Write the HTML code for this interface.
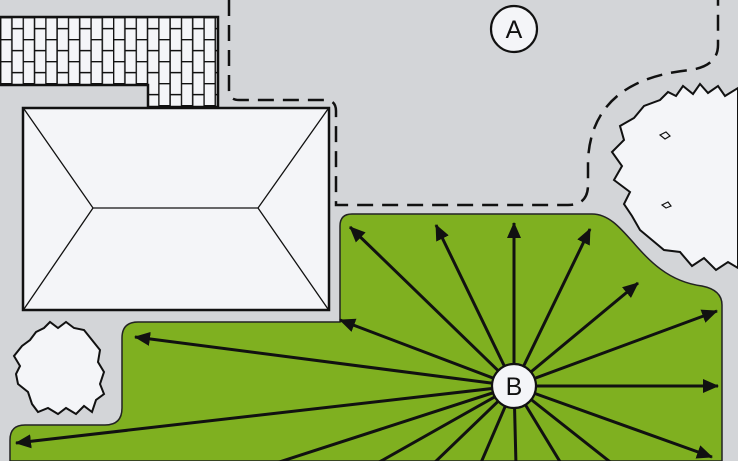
<!DOCTYPE html>
<html><head><meta charset="utf-8"><style>
html,body{margin:0;padding:0;background:#d3d5d8;}
svg{display:block}
text{font-family:"Liberation Sans",sans-serif;}
</style></head><body>
<svg width="738" height="461" viewBox="0 0 738 461" xmlns="http://www.w3.org/2000/svg">
<defs>
<pattern id="brick" x="0" y="17" width="22.6" height="22" patternUnits="userSpaceOnUse">
<rect width="22.6" height="22" fill="#f4f5f8"/>
<path d="M0.6 0V22M11.9 0V22M0 0.6H11.9M11.9 11.6H22.6" stroke="#111" stroke-width="1.5" fill="none"/>
</pattern>
<marker id="ar" markerWidth="16" markerHeight="14" refX="15" refY="7" orient="auto" markerUnits="userSpaceOnUse" viewBox="0 0 16 14">
<path d="M0 0L16 7L0 14Z" fill="#111"/>
</marker>
</defs>
<rect width="738" height="461" fill="#d3d5d8"/>
<path d="M0 17H218V107H148V85H0Z" fill="url(#brick)" stroke="#111" stroke-width="2.5"/>
<path d="M229 0V90Q229 100 239 100H325Q336 100 336 111V205H568Q588 205 588 185V160Q592 80 690 70Q718 66 718 45V0" fill="none" stroke="#111" stroke-width="2.5" stroke-dasharray="16 9"/>
<rect x="23" y="108" width="306" height="202" fill="#f4f5f8" stroke="#111" stroke-width="2.5"/>
<path d="M24 109L93 208H258L328 109M24 309L93 208M258 208L328 309" fill="none" stroke="#111" stroke-width="1.3"/>
<path d="M352 214H592C628 214 640 278 702 286Q722 290 722 305V461H10V440Q10 425 25 425H105Q122 425 122 408V338Q122 322 138 322H340V226Q340 214 352 214Z" fill="#7fb020" stroke="#222" stroke-width="1.5"/>
<path d="M660 100L668 92L676 96L683 86L693 94L700 84L708 93L718 86L725 96L738 88V268L728 262L716 270L704 258L692 266L680 252L664 250L652 240L640 230L632 216L624 204L630 192L614 180L622 166L612 152L624 140L620 126L634 118L644 106Z" fill="#f4f5f8" stroke="#111" stroke-width="2"/>
<path d="M660 135l6 -3l4 4l-5 3zM662 205l6-3l3 4l-5 2z" fill="none" stroke="#111" stroke-width="1.2"/>
<path d="M36 332L44 328L50 322L58 328L66 322L74 328L84 330L92 340L100 350L98 362L104 372L100 384L104 394L96 400L92 412L84 406L76 414L66 408L58 414L48 408L38 412L32 404L28 392L18 384L16 374L20 366L14 356L22 346L30 340Z" fill="#f4f5f8" stroke="#111" stroke-width="2"/>
<circle cx="514" cy="29" r="23" fill="#f4f5f8" stroke="#111" stroke-width="2.2"/>
<text x="514" y="38" text-anchor="middle" font-size="25" fill="#111">A</text>
<g stroke="#111" stroke-width="3" fill="none">
<line x1="514" y1="386" x2="350" y2="227" marker-end="url(#ar)"/>
<line x1="514" y1="386" x2="436" y2="225" marker-end="url(#ar)"/>
<line x1="514" y1="386" x2="514" y2="223" marker-end="url(#ar)"/>
<line x1="514" y1="386" x2="590" y2="229" marker-end="url(#ar)"/>
<line x1="514" y1="386" x2="638" y2="283" marker-end="url(#ar)"/>
<line x1="514" y1="386" x2="717" y2="311" marker-end="url(#ar)"/>
<line x1="514" y1="386" x2="718" y2="386" marker-end="url(#ar)"/>
<line x1="514" y1="386" x2="712" y2="457" marker-end="url(#ar)"/>
<line x1="514" y1="386" x2="340" y2="320" marker-end="url(#ar)"/>
<line x1="514" y1="386" x2="135" y2="337" marker-end="url(#ar)"/>
<line x1="514" y1="386" x2="16" y2="443" marker-end="url(#ar)"/>
<line x1="514" y1="386" x2="270" y2="465"/>
<line x1="514" y1="386" x2="374" y2="465"/>
<line x1="514" y1="386" x2="432" y2="465"/>
<line x1="514" y1="386" x2="480" y2="465"/>
<line x1="514" y1="386" x2="516" y2="465"/>
<line x1="514" y1="386" x2="562" y2="465"/>
<line x1="514" y1="386" x2="614" y2="465"/>
</g>
<circle cx="514" cy="386" r="22" fill="#f4f5f8" stroke="#111" stroke-width="2.2"/>
<text x="514" y="395" text-anchor="middle" font-size="25" fill="#111">B</text>
</svg>
</body></html>
